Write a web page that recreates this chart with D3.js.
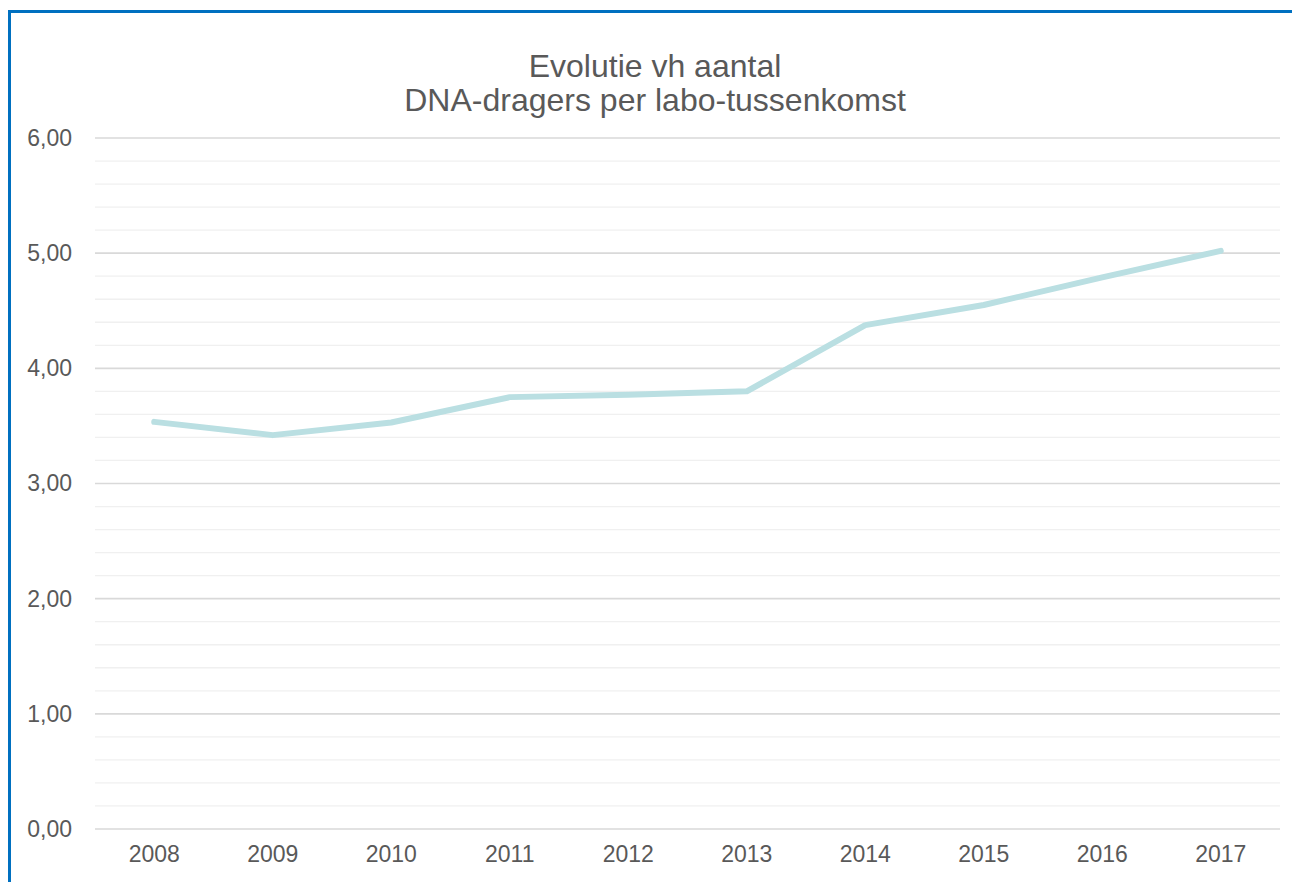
<!DOCTYPE html>
<html>
<head>
<meta charset="utf-8">
<script src="https://cdn.jsdelivr.net/npm/d3@7"></script>
<style>
  html, body { margin: 0; padding: 0; background: #fff; }
  svg { display: block; font-family: "Liberation Sans", Arial, sans-serif; }
</style>
</head>
<body>
<svg id="chart" width="1292" height="882"></svg>
<script>
// data
const years = ["2008", "2009", "2010", "2011", "2012", "2013", "2014", "2015", "2016", "2017"];
const values = [3.535, 3.42, 3.53, 3.75, 3.77, 3.80, 4.375, 4.55, 4.79, 5.02];
const titleLines = ["Evolutie vh aantal", "DNA-dragers per labo-tussenkomst"];
const majorTicks = [0, 1, 2, 3, 4, 5, 6];

const width = 1292;
const height = 882;
const plot = { left: 95, right: 1280, top: 138, bottom: 829 };

const svg = d3.select("#chart");

// chart frame (blue border, runs off the right and bottom edges)
svg.append("rect")
  .attr("x", 9.5)
  .attr("y", 11.5)
  .attr("width", width + 20)
  .attr("height", height + 20)
  .attr("fill", "#fff")
  .attr("stroke", "#0070c0")
  .attr("stroke-width", 3);

const x = d3.scaleBand()
  .domain(years)
  .range([plot.left, plot.right]);

const y = d3.scaleLinear()
  .domain([0, 6])
  .range([plot.bottom, plot.top]);

// minor gridlines every 0.2
const minorTicks = d3.range(0, 6.001, 0.2).filter(v => Math.abs(v - Math.round(v)) > 0.01);
svg.append("g")
  .selectAll("line")
  .data(minorTicks)
  .enter()
  .append("line")
  .attr("x1", plot.left)
  .attr("x2", plot.right)
  .attr("y1", d => y(d))
  .attr("y2", d => y(d))
  .attr("stroke", "#f0f0f0")
  .attr("stroke-width", 1.3);

// major gridlines
svg.append("g")
  .selectAll("line")
  .data(majorTicks)
  .enter()
  .append("line")
  .attr("x1", plot.left)
  .attr("x2", plot.right)
  .attr("y1", d => y(d))
  .attr("y2", d => y(d))
  .attr("stroke", "#d9d9d9")
  .attr("stroke-width", 1.6);

// y axis labels
const fmt = v => d3.format(".2f")(v).replace(".", ",");
const yAxis = svg.append("g")
  .attr("transform", "translate(72,0)")
  .call(d3.axisLeft(y).tickValues(majorTicks).tickFormat(fmt).tickSize(0).tickPadding(0));
yAxis.select(".domain").remove();
yAxis.selectAll("text")
  .attr("fill", "#595959")
  .style("font-size", "23px")
  .style("font-family", "Liberation Sans, Arial, sans-serif");

// x axis labels
const xAxis = svg.append("g")
  .attr("transform", `translate(0,${plot.bottom})`)
  .call(d3.axisBottom(x).tickSize(0).tickPadding(17));
xAxis.select(".domain").remove();
xAxis.selectAll("text")
  .attr("fill", "#595959")
  .style("font-size", "23px")
  .style("font-family", "Liberation Sans, Arial, sans-serif");

// the series line
const line = d3.line()
  .x((d, i) => x(years[i]) + x.bandwidth() / 2)
  .y(d => y(d));

svg.append("path")
  .datum(values)
  .attr("d", line)
  .attr("fill", "none")
  .attr("stroke", "#badfe2")
  .attr("stroke-width", 6)
  .attr("stroke-linecap", "round")
  .attr("stroke-linejoin", "round");

// title
svg.append("text")
  .attr("x", 655)
  .attr("text-anchor", "middle")
  .attr("fill", "#595959")
  .style("font-size", "32px")
  .selectAll("tspan")
  .data(titleLines)
  .enter()
  .append("tspan")
  .attr("x", 655)
  .attr("y", (d, i) => 77 + i * 34)
  .text(d => d);
</script>
</body>
</html>
